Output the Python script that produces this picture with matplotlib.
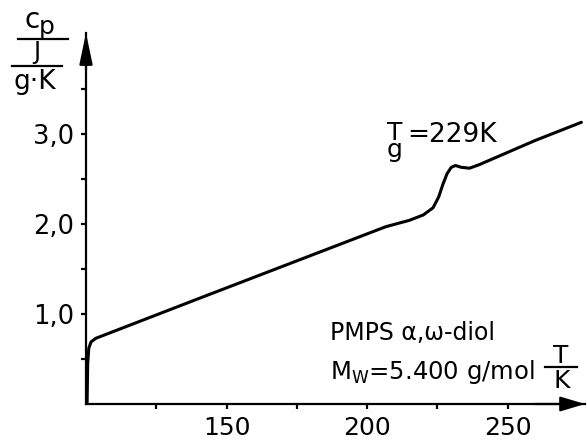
import matplotlib
matplotlib.use("Agg")
import matplotlib.pyplot as plt
from matplotlib.lines import Line2D
from matplotlib.ticker import FixedLocator, FuncFormatter

# heat capacity curve
temperature = [100.4, 100.6, 101.0, 101.8, 103.5, 140.8, 180.0, 206.7, 215.0,
               220.0, 223.5, 225.5, 227.0, 228.5, 230.0, 231.5, 233.5, 236.5,
               240.0, 260.0, 276.3]
cp = [0.02, 0.45, 0.62, 0.69, 0.73, 1.18, 1.65, 1.97, 2.04,
      2.10, 2.18, 2.30, 2.44, 2.56, 2.63, 2.65, 2.63, 2.62,
      2.66, 2.93, 3.13]

x_major = [150, 200, 250]
x_minor = [125, 175, 225]
y_major = [1.0, 2.0, 3.0]
y_minor = [0.5, 1.5, 2.5, 3.5]

W, H = 587, 441


def fp(x, y):
    # pixel position -> figure fraction
    return x / W, 1 - y / H


fig = plt.figure(figsize=(W / 100, H / 100), dpi=100)
ax = fig.add_axes([86 / W, 1 - 404 / H, 499 / W, 371 / H])

ax.plot(temperature, cp, color="black", lw=2.2, solid_capstyle="round",
        solid_joinstyle="round")

ax.set_xlim(100, 100 + 499 / 2.81)
ax.set_ylim(0, 371 / 90)

for s in ["top", "right"]:
    ax.spines[s].set_visible(False)
for s in ["left", "bottom"]:
    ax.spines[s].set_linewidth(1.6)

ax.xaxis.set_major_locator(FixedLocator(x_major))
ax.xaxis.set_minor_locator(FixedLocator(x_minor))
ax.yaxis.set_major_locator(FixedLocator(y_major))
ax.yaxis.set_minor_locator(FixedLocator(y_minor))
ax.yaxis.set_major_formatter(FuncFormatter(lambda v, p: f"{v:.1f}".replace(".", ",")))

ax.tick_params(which="both", direction="out", length=3.5, width=1.6, color="black")
ax.tick_params(axis="x", which="major", labelsize=18, pad=5)
ax.tick_params(axis="y", which="major", labelsize=18.5, pad=5)

# arrow heads on the axes
ax.annotate("", xy=(1.0, 0), xytext=(0.9, 0), xycoords="axes fraction",
            arrowprops=dict(arrowstyle="-|>,head_length=1.5,head_width=0.45",
                            color="black", lw=1.6, shrinkA=0, shrinkB=0,
                            mutation_scale=10))
ax.annotate("", xy=(0, 1.0), xytext=(0, 0.9), xycoords="axes fraction",
            arrowprops=dict(arrowstyle="-|>,head_length=1.9,head_width=0.4",
                            color="black", lw=1.6, shrinkA=0, shrinkB=0,
                            mutation_scale=10))

# y axis unit label  c_p / (J / g.K)
fig.text(*fp(24, 28), "c", ha="left", va="baseline", fontsize=20)
fig.text(*fp(39, 34), "p", ha="left", va="baseline", fontsize=18)
fig.add_artist(Line2D([18 / W, 68 / W], [1 - 39 / H, 1 - 39 / H], color="black", lw=1.6))
fig.text(*fp(37, 52), "J", ha="center", va="center", fontsize=17)
fig.add_artist(Line2D([12 / W, 62 / W], [1 - 66 / H, 1 - 66 / H], color="black", lw=1.6))
fig.text(*fp(35, 82), "g·K", ha="center", va="center", fontsize=19)

# x axis unit label T / K
fig.text(*fp(561, 356), "T", ha="center", va="center", fontsize=18)
fig.add_artist(Line2D([545 / W, 577 / W], [1 - 367 / H, 1 - 367 / H], color="black", lw=1.6))
fig.text(*fp(562, 381), "K", ha="center", va="center", fontsize=18)

# glass transition label
fig.text(*fp(387, 157), "T\ng", ha="left", va="baseline", ma="center",
         linespacing=0.62, fontsize=18)
fig.text(*fp(407, 142), "=229K", ha="left", va="baseline", fontsize=19)

# sample label
fig.text(*fp(330, 340), "PMPS α,ω-diol", ha="left", va="baseline", fontsize=17)
fig.text(*fp(330, 379), r"M$_\mathregular{W}$=5.400 g/mol", ha="left", va="baseline",
         fontsize=17.5)

fig.savefig("out.png", dpi=100)
